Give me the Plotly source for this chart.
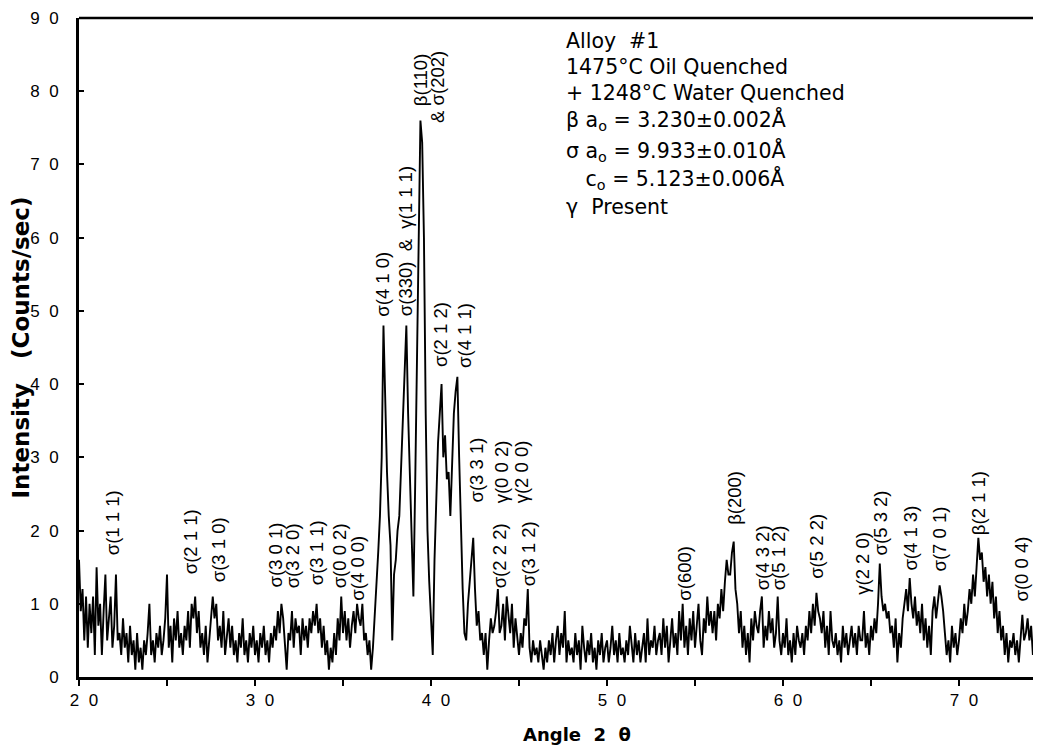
import plotly.graph_objects as go
import numpy as np

# ---------------- data ----------------
start_angle = 20.0
step = 0.1
# intensity (counts/sec), one row per degree 2-theta (20.0 .. 74.7)
intensity_rows = [
    [16, 9, 12, 5, 11, 4, 10, 6, 11, 3],          # 20
    [15, 7, 10, 3, 9, 14, 5, 8, 11, 4],           # 21
    [7, 14, 5, 6, 3, 8, 4, 6, 2, 7],              # 22
    [3, 5, 1, 6, 2, 4, 1, 5, 3, 6],               # 23
    [10, 3, 5, 2, 6, 4, 7, 3, 5, 8],              # 24
    [14, 4, 7, 2, 8, 5, 9, 4, 6, 3],              # 25
    [7, 5, 9, 4, 10, 8, 11, 6, 9, 4],             # 26
    [6, 3, 7, 2, 5, 9, 11, 8, 10, 5],             # 27
    [7, 4, 9, 3, 6, 8, 4, 7, 3, 5],               # 28
    [2, 6, 4, 8, 3, 5, 2, 6, 4, 7],               # 29
    [3, 5, 2, 6, 4, 7, 3, 5, 2, 6],               # 30
    [4, 7, 5, 9, 6, 10, 8, 4, 1, 6],              # 31
    [5, 9, 4, 8, 6, 7, 3, 8, 5, 7],               # 32
    [4, 8, 6, 9, 7, 10, 6, 8, 4, 7],              # 33
    [3, 5, 1, 4, 2, 6, 3, 8, 5, 11],              # 34
    [6, 9, 5, 8, 4, 7, 9, 6, 10, 8],              # 35
    [7, 10, 5, 6, 3, 5, 1, 4, 8, 12],             # 36
    [17, 22, 30, 48, 36, 28, 22, 18, 5, 14],      # 37
    [16, 20, 22, 28, 34, 42, 48, 36, 27, 20],     # 38
    [11, 26, 45, 62, 76, 73, 60, 36, 20, 13],     # 39
    [8, 3, 16, 26, 32, 36, 40, 30, 33, 27],       # 40
    [28, 22, 30, 36, 39, 41, 30, 20, 12, 6],      # 41
    [5, 10, 13, 15, 19, 12, 7, 9, 5, 6],          # 42
    [3, 6, 1, 5, 8, 6, 7, 9, 12, 6],              # 43
    [7, 10, 5, 11, 8, 6, 10, 4, 8, 5],            # 44
    [3, 6, 4, 8, 7, 12, 4, 2, 5, 3],              # 45
    [4, 2, 5, 3, 1, 4, 2, 5, 3, 6],               # 46
    [2, 5, 7, 3, 6, 4, 9, 2, 5, 3],               # 47
    [4, 2, 6, 3, 5, 1, 7, 4, 2, 5],               # 48
    [3, 6, 2, 4, 1, 5, 3, 6, 2, 4],               # 49
    [5, 2, 4, 7, 3, 5, 2, 6, 3, 4],               # 50
    [2, 5, 3, 7, 4, 2, 6, 3, 5, 2],               # 51
    [4, 6, 2, 8, 3, 5, 4, 7, 3, 5],               # 52
    [6, 3, 8, 4, 7, 2, 5, 8, 4, 6],               # 53
    [3, 9, 5, 10, 4, 7, 3, 8, 5, 9],              # 54
    [4, 7, 10, 5, 3, 8, 6, 11, 7, 9],             # 55
    [6, 9, 5, 10, 8, 12, 9, 13, 16, 14],          # 56
    [14, 17, 18.5, 12, 10, 6, 9, 4, 7, 3],        # 57
    [6, 2, 8, 5, 9, 7, 6, 9, 11, 4],              # 58
    [7, 5, 9, 6, 8, 4, 6, 11, 5, 3],              # 59
    [6, 4, 8, 3, 5, 2, 6, 3, 7, 5],               # 60
    [4, 6, 3, 7, 5, 9, 6, 10, 7, 11.5],           # 61
    [9, 8, 6, 9, 4, 7, 3, 9, 5, 4],               # 62
    [6, 3, 5, 2, 7, 4, 6, 3, 5, 7],               # 63
    [4, 6, 3, 7, 5, 5, 9, 4, 6, 3],               # 64
    [7, 5, 8, 6, 10, 15.5, 11, 9, 10, 8],         # 65
    [9, 6, 7, 4, 8, 2, 6, 4, 8, 10],              # 66
    [12, 9, 13.5, 10, 8, 11, 7, 9, 6, 10],        # 67
    [5, 8, 4, 7, 3, 9, 11, 8, 10, 12.5],          # 68
    [11, 9, 6, 3, 5, 2, 7, 4, 6, 3],              # 69
    [5, 8, 6, 10, 7, 9, 12, 10, 14, 11],          # 70
    [15, 19, 16, 17, 13, 15, 11, 14, 10, 13],     # 71
    [8, 11, 6, 9, 5, 7, 3, 6, 2, 5],              # 72
    [4, 6, 3, 5, 2, 6, 8.5, 5, 6, 8],             # 73
    [5, 7, 3, 6, 4, 8, 5, 7],                     # 74
]
intensity = [v for row in intensity_rows for v in row]
angles = np.round(start_angle + step * np.arange(len(intensity)), 2)

# peak labels: text, angle, intensity at the label's lower end
peak_labels = ["σ(1 1 1)", "σ(2 1 1)", "σ(3 1 0)", "σ(3 0 1)", "σ(3 2 0)", "σ(3 1 1)",
               "σ(0 0 2)", "σ(4 0 0)", "σ(4 1 0)", "σ(330)\u00a0 & \u00a0γ(1 1 1)", "β(110)",
               "& σ(202)", "σ(2 1 2)", "σ(4 1 1)", "σ(3 3 1)", "σ(2 2 2)", "γ(0 0 2)",
               "γ(2 0 0)", "σ(3 1 2)", "σ(600)", "β(200)", "σ(4 3 2)", "σ(5 1 2)",
               "σ(5 2 2)", "γ(2 2 0)", "σ(5 3 2)", "σ(4 1 3)", "σ(7 0 1)", "β(2 1 1)",
               "σ(0 0 4)"]
label_angle = [21.88, 26.31, 27.90, 31.14, 32.10, 33.47, 34.77, 35.80, 37.27, 38.52,
               39.38, 40.40, 40.57, 41.93, 42.56, 43.86, 44.03, 45.11, 45.51, 54.38,
               57.27, 58.81, 59.72, 61.93, 64.55, 65.51, 67.22, 68.92, 71.08, 73.58]
label_base = [16.3, 13.7, 12.6, 11.9, 11.9, 12.2, 11.9, 10.1, 49.0, 49.0,
              77.7, 75.4, 42.0, 42.0, 23.5, 11.9, 23.5, 23.5, 12.2, 10.1,
              20.5, 11.5, 11.5, 13.2, 10.9, 16.4, 14.2, 14.2, 19.1, 10.1]

info_lines = ["Alloy  #1", "1475°C Oil Quenched", "+ 1248°C Water Quenched",
              "β a<sub>o</sub> = 3.230±0.002Å", "σ a<sub>o</sub> = 9.933±0.010Å",
              "\u00a0\u00a0\u00a0c<sub>o</sub> = 5.123±0.006Å", "γ  Present"]
info_y = [86.8, 83.3, 79.8, 76.1, 71.9, 68.0, 64.2]

x_ticks = [20, 30, 40, 50, 60, 70]
x_ticktext = ["2\u00a0\u00a00", "3\u00a0\u00a00", "4\u00a0\u00a00", "5\u00a0\u00a00",
              "6\u00a0\u00a00", "7\u00a0\u00a00"]
y_ticks = [0, 10, 20, 30, 40, 50, 60, 70, 80, 90]
y_ticktext = ["0", "1\u00a0\u00a00", "2\u00a0\u00a00", "3\u00a0\u00a00", "4\u00a0\u00a00",
              "5\u00a0\u00a00", "6\u00a0\u00a00", "7\u00a0\u00a00", "8\u00a0\u00a00",
              "9\u00a0\u00a00"]

FONT = "Liberation Sans, Arial, sans-serif"
WIDE = "DejaVu Sans, Liberation Sans, sans-serif"

fig = go.Figure()
fig.add_trace(go.Scatter(x=angles, y=intensity, mode="lines",
                         line=dict(color="black", width=1.9), showlegend=False,
                         hoverinfo="x+y"))

annotations = []
for t, a, b in zip(peak_labels, label_angle, label_base):
    annotations.append(dict(x=a, y=b, xref="x", yref="y", text=t, showarrow=False,
                            textangle=-90, xanchor="center", yanchor="bottom",
                            font=dict(family=FONT, size=18.5, color="black")))
for t, yv in zip(info_lines, info_y):
    annotations.append(dict(x=47.55, y=yv, xref="x", yref="y", text=t, showarrow=False,
                            xanchor="left", yanchor="middle",
                            font=dict(family=WIDE, size=20.5, color="black")))
# x-axis title
annotations.append(dict(x=0.5177, y=-0.088, xref="paper", yref="paper",
                        text="<b>Angle  2  θ</b>", showarrow=False,
                        xanchor="center", yanchor="middle",
                        font=dict(family=WIDE, size=18, color="black")))

# the page body has an 8px default margin, so the figure is sized to compensate
fig.update_layout(
    width=1033, height=745,
    margin=dict(l=71, r=0, t=10, b=76, autoexpand=False),
    paper_bgcolor="white", plot_bgcolor="white",
    font=dict(family=FONT, color="black"),
    annotations=annotations,
    xaxis=dict(range=[20, 74.66], showgrid=False, zeroline=False, automargin=False,
               showline=True, linewidth=3, linecolor="black",
               ticks="outside", ticklen=6, tickwidth=2, tickcolor="black",
               tickvals=x_ticks, ticktext=x_ticktext, ticklabelshift=5,
               minor=dict(tickvals=[25, 35, 45, 55, 65], ticks="outside", ticklen=6,
                          tickwidth=2, tickcolor="black", showgrid=False),
               tickfont=dict(family=FONT, size=17)),
    yaxis=dict(range=[0, 90], showgrid=False, zeroline=False, automargin=False,
               showline=True, linewidth=3, linecolor="black",
               ticks="inside", ticklen=5, tickwidth=1.5, tickcolor="black",
               tickvals=y_ticks, ticktext=y_ticktext,
               tickfont=dict(family=FONT, size=17), ticklabelstandoff=14,
               title=dict(text="<b>Intensity\u00a0\u00a0 (Counts/sec)</b>",
                          font=dict(family=WIDE, size=23), standoff=8)),
    shapes=[dict(type="line", xref="paper", yref="paper", x0=0, x1=1, y0=1, y1=1,
                 line=dict(color="black", width=2.5))],
)

fig.write_html("out.html")
